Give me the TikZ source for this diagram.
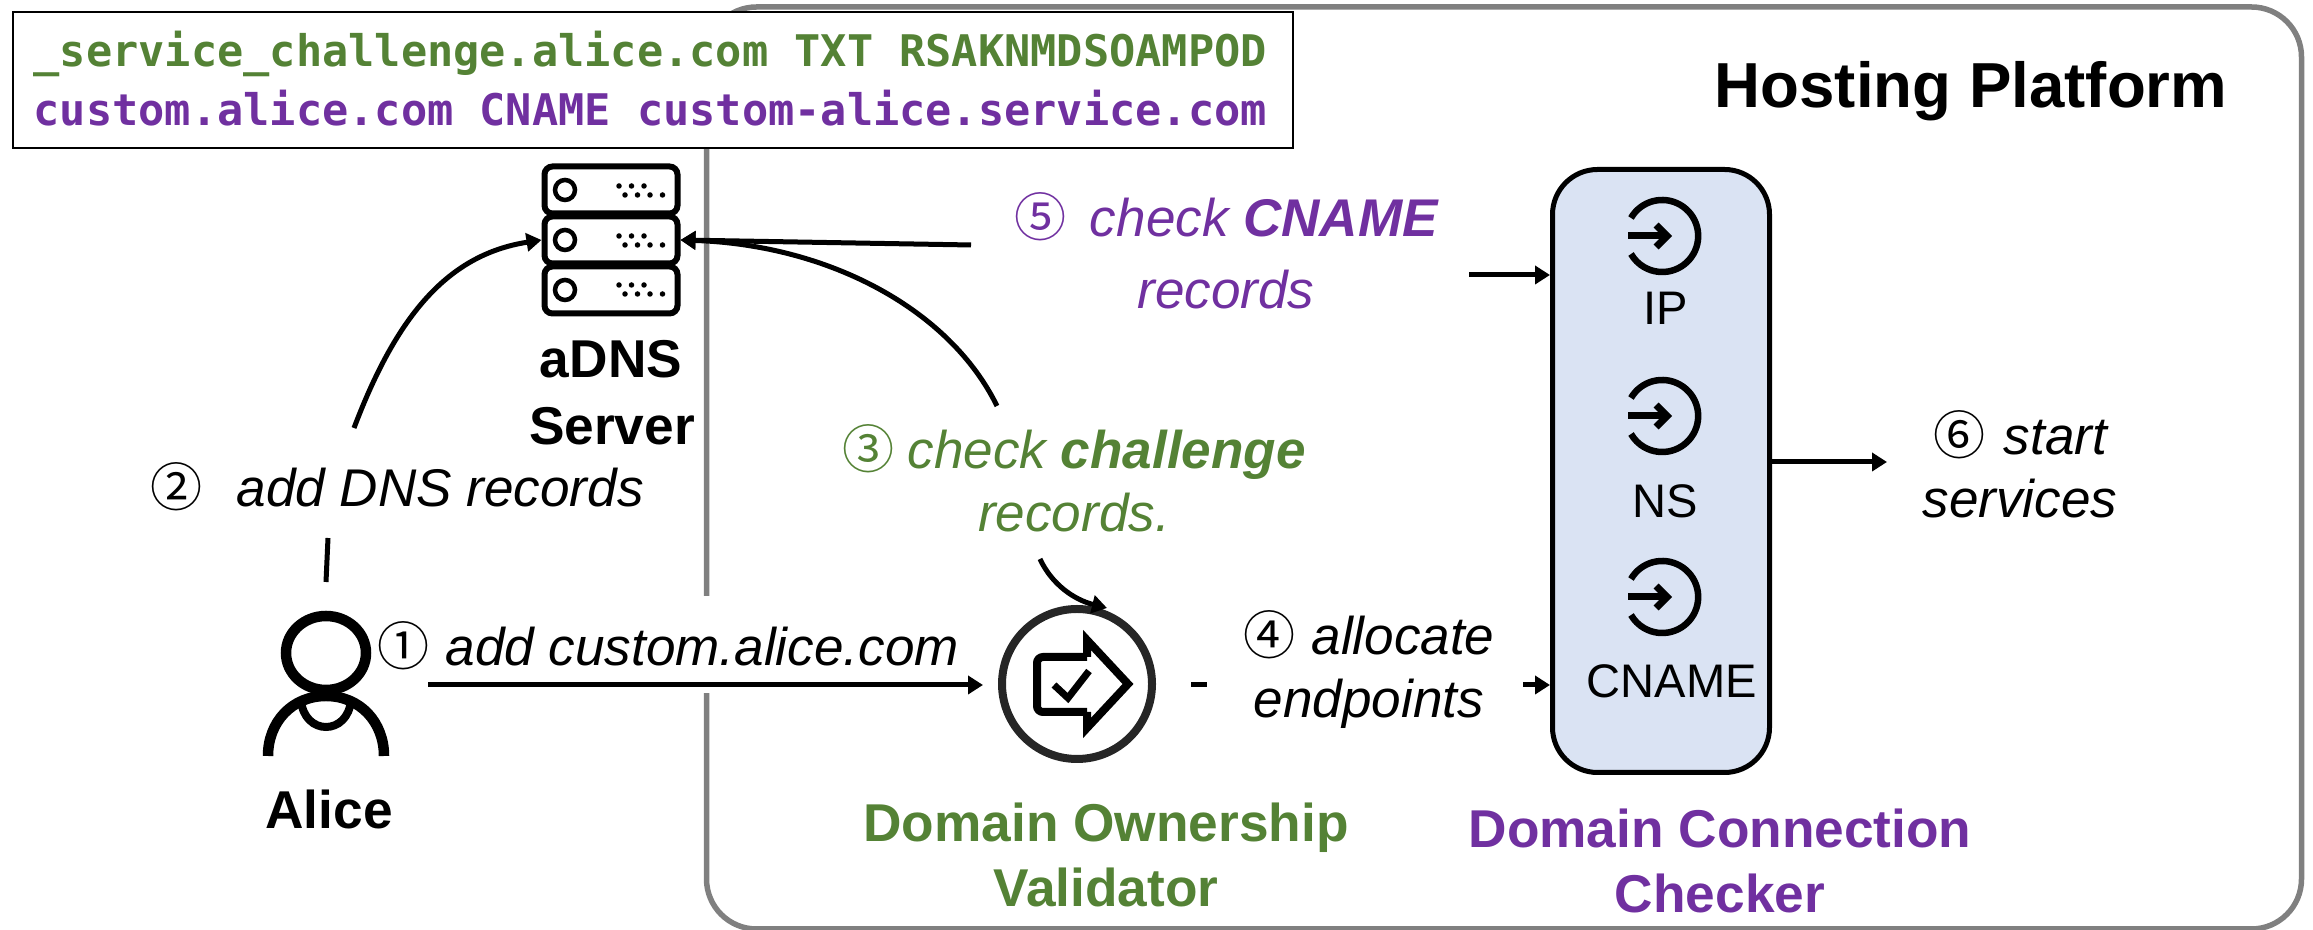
\documentclass[tikz,border=0pt]{standalone}
\usepackage{fontspec}
\setmainfont{Liberation Sans}
\newfontfamily\numfont{Noto Sans CJK SC}
\newfontfamily\recfont{DejaVu Sans Mono}
\usetikzlibrary{arrows.meta}
\definecolor{dovgreen}{HTML}{548235}
\definecolor{dccpurple}{HTML}{7030A0}
\definecolor{dccfill}{HTML}{DAE3F3}
\newcommand{\stepno}[1]{{\numfont\upshape\mdseries\fontsize{14.8}{18}\selectfont #1}}
\tikzset{
  flow/.style={-{Triangle[length=1.5mm,width=1.8mm]}, line width=0.5mm},
  plainflow/.style={line width=0.5mm},
  steplabel/.style={font=\fontsize{15.1}{18}\selectfont\itshape, anchor=base, align=center, inner sep=0pt},
  partlabel/.style={font=\fontsize{15.15}{18.7}\selectfont\bfseries, anchor=base, align=center, inner sep=0pt},
  entrylabel/.style={font=\fontsize{13.4}{15}\selectfont, anchor=base, inner sep=0pt},
  srvunit/.style={draw, line width=0.6mm, rounded corners=0.8mm, minimum width=1.33cm, minimum height=0.47cm, inner sep=0pt},
  srvled/.style={draw, line width=0.45mm, circle, minimum size=0.2cm, inner sep=0pt},
  srvdots/.style={line width=0.55mm, line cap=round, dash pattern=on 0pt off 0.125cm},
  entryring/.style={line width=0.65mm},
  entryarrow/.style={-{Straight Barb[length=1.1mm,width=2.2mm]}, line width=0.7mm},
  aliceline/.style={line width=1.05mm}
}
\begin{document}
\begin{tikzpicture}[x=0.1mm, y=-0.1mm]
  \useasboundingbox (0,0) rectangle (2313,930);
  % platform frame and the records on top of it
  \node[draw=black!50, line width=0.55mm, rounded corners=0.5cm, minimum width=15.95cm, minimum height=9.22cm, inner sep=0pt] (hosting) at (1504,468) {};
  \node[font=\fontsize{18.1}{20}\selectfont\bfseries, anchor=base, inner sep=0pt] (hostingtitle) at (1971,108) {Hosting Platform};
  \node[draw, fill=white, line width=0.28mm, minimum width=12.8cm, minimum height=1.36cm, inner sep=0pt] (records) at (653,80) {};
  \node[font=\recfont\bfseries\fontsize{12.4}{14}\selectfont, text=dovgreen, anchor=base west, inner sep=0pt] (txtrec) at (33,67) {\_service\_challenge.alice.com TXT RSAKNMDSOAMPOD};
  \node[font=\recfont\bfseries\fontsize{12.4}{14}\selectfont, text=dccpurple, anchor=base west, inner sep=0pt] (cnamerec) at (33,126) {custom.alice.com CNAME custom-alice.service.com};

  % aDNS server
  \node[srvunit] (adns1) at (611,190) {};
  \node[srvunit] (adns2) at (611,240) {};
  \node[srvunit] (adns3) at (611,290) {};
  \node[srvled] (led1) at (565,190) {};
  \node[srvled] (led2) at (565,240) {};
  \node[srvled] (led3) at (565,290) {};
  \draw[srvdots] (619,186) -- (656,186);
  \draw[srvdots] (625,195) -- (664,195);
  \draw[srvdots] (619,236) -- (656,236);
  \draw[srvdots] (625,245) -- (664,245);
  \draw[srvdots] (619,285) -- (656,285);
  \draw[srvdots] (625,294) -- (664,294);
  \node[partlabel] (adnslabel) at (611,378) {aDNS};
  \node[partlabel] (serverlabel) at (612,445) {Server};

  % Alice
  \node[minimum width=1.2cm, minimum height=1.4cm, inner sep=0pt] (alice) at (326,685) {};
  \draw[aliceline] (326,653) ellipse (40 and 37);
  \draw[aliceline] (268,756) .. controls (268,722) and (292,696) .. (326,696) .. controls (360,696) and (384,722) .. (384,756);
  \draw[line width=0.8mm] (301,700) .. controls (304,736) and (348,736) .. (351,700);
  \node[partlabel] (alicelabel) at (329,829) {Alice};

  % step one hides the frame behind it
  \node[steplabel, anchor=base west, fill=white, text height=0.7cm, text depth=0.27cm] (stepone) at (377,666) {\stepno{①}\hspace{0.3em}add custom.alice.com};
  \coordinate (oneout) at (428,685);
  \draw[flow] (oneout) -- (983,685);

  % validator
  \node[circle, draw=black!85, line width=0.8mm, minimum size=1.5cm, inner sep=0pt] (validator) at (1077,684) {};
  \draw[line width=0.8mm, rounded corners=0.6mm] (1087,657) -- (1037,657) -- (1037,712) -- (1087,712);
  \draw[line width=0.8mm, line join=miter] (1087,657) -- (1087,640) -- (1128,684) -- (1087,728) -- (1087,712);
  \draw[line width=0.7mm] (1054,685) -- (1068,698) -- (1089,671);
  \node[partlabel, text=dovgreen] (validatorlabel) at (1106,907) {Domain Ownership\\Validator};

  % checker
  \node[draw, fill=dccfill, line width=0.5mm, rounded corners=0.45cm, minimum width=2.17cm, minimum height=6.03cm, inner sep=0pt] (checker) at (1661,471) {};
  \draw[entryring] (1631,218) arc[start angle=150, end angle=-150, radius=0.36cm];
  \draw[entryarrow] (1628,236) -- (1672,236);
  \node[entrylabel] (iplabel) at (1666,325) {IP};
  \draw[entryring] (1631,398) arc[start angle=150, end angle=-150, radius=0.36cm];
  \draw[entryarrow] (1628,416) -- (1672,416);
  \node[entrylabel] (nslabel) at (1665,518) {NS};
  \draw[entryring] (1631,579) arc[start angle=150, end angle=-150, radius=0.36cm];
  \draw[entryarrow] (1628,597) -- (1672,597);
  \node[entrylabel] (cnamelabel) at (1672,698) {CNAME};
  \node[partlabel, text=dccpurple] (checkerlabel) at (1720,913) {Domain Connection\\Checker};

  % step labels
  \node[steplabel] (steptwo) at (397,507) {\stepno{②}\hspace{0.65em}add DNS records};
  \node[steplabel, text=dovgreen] (stepthree) at (1074,532) {\stepno{③}\hspace{0.25em}check \textbf{challenge}\\records.};
  \node[steplabel] (stepfour) at (1369,718) {\stepno{④}\hspace{0.3em}allocate\\endpoints};
  \node[steplabel, text=dccpurple] (stepfive) at (1226,309) {\stepno{⑤}\hspace{0.45em}check \textbf{CNAME}\\[2.6pt]records};
  \node[steplabel] (stepsix) at (2020,518) {\stepno{⑥}\hspace{0.35em}start\\services};

  % connectors
  \coordinate (twolow) at (326,582);
  \coordinate (twomid) at (328,538);
  \coordinate (twoup) at (354,428);
  \coordinate (threeup) at (997,406);
  \coordinate (threelow) at (1040,559);
  \coordinate (threetip) at (1107,608);
  \coordinate (fourstub) at (1191,685);
  \coordinate (fourstubend) at (1207,685);
  \coordinate (fourin) at (1523,685);
  \coordinate (fiveleft) at (971,245);
  \coordinate (fiveright) at (1469,275);
  \coordinate (sixend) at (1887,462);
  \draw[plainflow] (twolow) -- (twomid);
  \draw[flow] (twoup) .. controls (395,320) and (445,255) .. (adns2.west);
  \draw[flow] (threeup) .. controls (950,310) and (830,245) .. (adns2.east);
  \draw[flow] (threelow) .. controls (1052,585) and (1075,600) .. (threetip);
  \draw[plainflow] (fourstub) -- (fourstubend);
  \draw[flow] (fourin) -- (checker.west |- fourin);
  \draw[flow] (fiveleft) -- (adns2.east);
  \draw[flow] (fiveright) -- (checker.west |- fiveright);
  \draw[flow] (checker.east |- sixend) -- (sixend);
\end{tikzpicture}
\end{document}
